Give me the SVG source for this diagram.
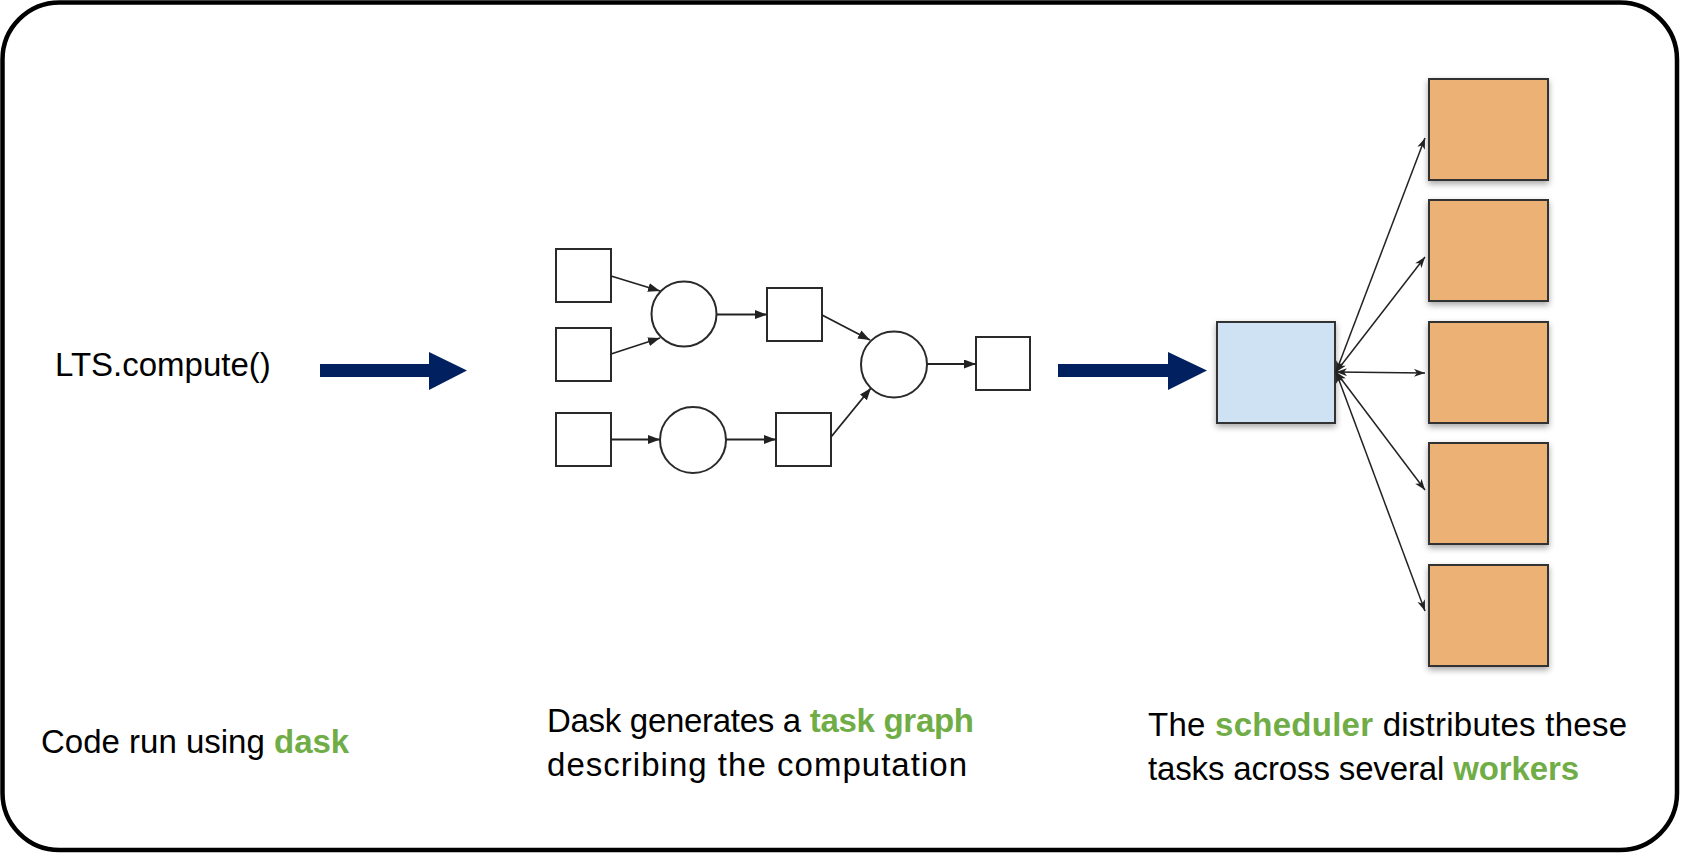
<svg xmlns="http://www.w3.org/2000/svg" width="1698" height="856" viewBox="0 0 1698 856">
<style>
  text { font-family: "Liberation Sans", Arial, sans-serif; font-size: 33px; fill: #000; }
  .hl { fill: #70ad47; font-weight: bold; }
  .tg { fill: #fff; stroke: #2a2a2a; stroke-width: 2; }
  .edge { fill: none; stroke: #222; stroke-width: 1.8; }
  .sedge { fill: none; stroke: #222; stroke-width: 1.5; }
  .worker { fill: #ecb174; stroke: #333; stroke-width: 2; }
  .sched { fill: #cfe2f3; stroke: #333; stroke-width: 2; }
  .big { fill: #002060; }
</style>
<defs>
  <marker id="tri" markerUnits="userSpaceOnUse" markerWidth="13" markerHeight="10" refX="12" refY="4.5" orient="auto">
    <path d="M0,0 L12,4.5 L0,9 z" fill="#222"/>
  </marker>
  <marker id="barb" markerUnits="userSpaceOnUse" markerWidth="12" markerHeight="9" refX="11" refY="4" orient="auto-start-reverse">
    <path d="M0,0 L11,4 L0,8 L3,4 z" fill="#222"/>
  </marker>
  <filter id="sh" x="-20%" y="-20%" width="140%" height="150%">
    <feDropShadow dx="0" dy="3" stdDeviation="3" flood-color="#000" flood-opacity="0.35"/>
  </filter>
</defs>

<rect id="frame" x="2.5" y="2.5" width="1674.5" height="847.5" rx="57" ry="57" fill="#fff" stroke="#000" stroke-width="4.5"/>

<g id="label-code">
  <text x="55" y="376">LTS.compute()</text>
</g>

<g id="big-arrows">
  <path class="big" d="M320,364 L429,364 L429,352 L467,370.5 L429,390 L429,377 L320,377 z"/>
  <path class="big" d="M1058,364 L1168,364 L1168,352 L1207,370.5 L1168,390 L1168,377 L1058,377 z"/>
</g>

<g id="task-graph-nodes">
  <g id="tA"><rect class="tg" x="556" y="249" width="55" height="53"/></g>
  <g id="tB"><rect class="tg" x="556" y="328" width="55" height="53"/></g>
  <g id="tD"><rect class="tg" x="556" y="413" width="55" height="53"/></g>
  <g id="c1"><circle class="tg" cx="684" cy="314" r="32.5"/></g>
  <g id="c3"><circle class="tg" cx="693" cy="440" r="33"/></g>
  <g id="tC"><rect class="tg" x="767" y="288" width="55" height="53"/></g>
  <g id="tE"><rect class="tg" x="776" y="413" width="55" height="53"/></g>
  <g id="c2"><circle class="tg" cx="894" cy="364.5" r="33"/></g>
  <g id="tF"><rect class="tg" x="976" y="337" width="54" height="53"/></g>
</g>

<g id="task-graph-edges">
  <line class="edge" x1="611" y1="276" x2="660" y2="291" marker-end="url(#tri)"/>
  <line class="edge" x1="611" y1="354" x2="660" y2="338" marker-end="url(#tri)"/>
  <line class="edge" x1="717" y1="314.5" x2="767" y2="314.5" marker-end="url(#tri)"/>
  <line class="edge" x1="822" y1="315" x2="870" y2="340" marker-end="url(#tri)"/>
  <line class="edge" x1="927" y1="364" x2="976" y2="364" marker-end="url(#tri)"/>
  <line class="edge" x1="611" y1="439.5" x2="660" y2="439.5" marker-end="url(#tri)"/>
  <line class="edge" x1="726" y1="439.5" x2="776" y2="439.5" marker-end="url(#tri)"/>
  <line class="edge" x1="831" y1="437" x2="871" y2="388" marker-end="url(#tri)"/>
</g>

<g id="scheduler"><rect class="sched" x="1217" y="322" width="118" height="101" filter="url(#sh)"/></g>

<g id="worker1"><rect class="worker" x="1429" y="79" width="119" height="101" filter="url(#sh)"/></g>
<g id="worker2"><rect class="worker" x="1429" y="200" width="119" height="101" filter="url(#sh)"/></g>
<g id="worker3"><rect class="worker" x="1429" y="322" width="119" height="101" filter="url(#sh)"/></g>
<g id="worker4"><rect class="worker" x="1429" y="443" width="119" height="101" filter="url(#sh)"/></g>
<g id="worker5"><rect class="worker" x="1429" y="565" width="119" height="101" filter="url(#sh)"/></g>

<g id="scheduler-edges">
  <line class="sedge" x1="1336" y1="372" x2="1425" y2="138" marker-start="url(#barb)" marker-end="url(#barb)"/>
  <line class="sedge" x1="1336" y1="372" x2="1425" y2="257" marker-start="url(#barb)" marker-end="url(#barb)"/>
  <line class="sedge" x1="1336" y1="372" x2="1425" y2="373" marker-start="url(#barb)" marker-end="url(#barb)"/>
  <line class="sedge" x1="1336" y1="372" x2="1425" y2="490" marker-start="url(#barb)" marker-end="url(#barb)"/>
  <line class="sedge" x1="1336" y1="372" x2="1425" y2="611" marker-start="url(#barb)" marker-end="url(#barb)"/>
</g>

<g id="captions">
  <text x="41" y="753">Code run using <tspan class="hl">dask</tspan></text>
  <text x="547" y="732" textLength="427" lengthAdjust="spacing">Dask generates a <tspan class="hl">task graph</tspan></text>
  <text x="547" y="776" textLength="420" lengthAdjust="spacing">describing the computation</text>
  <text x="1148" y="736" textLength="479" lengthAdjust="spacing">The <tspan class="hl">scheduler</tspan> distributes these</text>
  <text x="1148" y="780" textLength="431" lengthAdjust="spacing">tasks across several <tspan class="hl">workers</tspan></text>
</g>
</svg>
